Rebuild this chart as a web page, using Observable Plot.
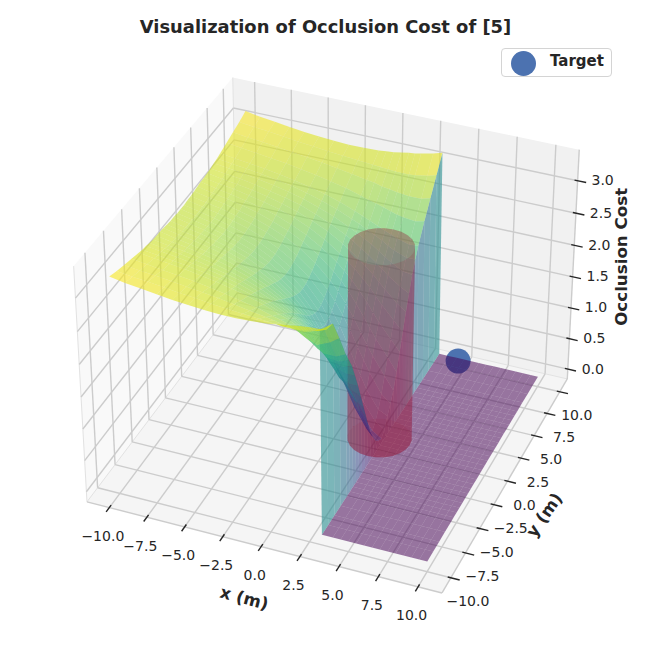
<!DOCTYPE html><html><head><meta charset="utf-8"><style>
html,body{margin:0;padding:0;background:#fff}
#wrap{position:relative;width:650px;height:650px;font-family:"DejaVu Sans",sans-serif}
#legend{position:absolute;left:501px;top:48px;width:109px;height:27px;border:1px solid #d4d4d4;border-radius:4px;background:#fff;color:#262626;font-weight:bold;font-size:15px}
#legend i{position:absolute;left:9px;top:1.5px;width:25px;height:25px;border-radius:50%;background:#4c72b0}
#legend span{position:absolute;left:48px;top:3px}
</style></head><body><div id="wrap"><div id="legend"><i></i><span>Target</span></div></div>
<script src="https://cdn.jsdelivr.net/npm/d3@7"></script>
<script src="https://cdn.jsdelivr.net/npm/@observablehq/plot@0.6"></script>
<script>
const titleText = "Visualization of Occlusion Cost of [5]";
const xTicks = [-10,-7.5,-5,-2.5,0,2.5,5,7.5,10];
const yTicks = [-10,-7.5,-5,-2.5,0,2.5,5,7.5,10];
const zTicks = [0,0.5,1,1.5,2,2.5,3];
const xLim = [-11.5,11.5], yLim = [-11.5,11.5], zLim = [-0.164,3.472];
const surfaceX = [-10,-9,-8,-7,-6,-5,-4,-3,-2,-1,-0.5,0,0.5,1,1.4,1.8,2.6,3.2];
const surfaceY = [-10,-9,-8,-7,-6,-5.5,-5,-4.5,-4,-3.5,-3,-2.5,-2,-1.5,-1,-0.5,0,0.5,1,1.5,2,2.5,3,3.5,4,4.5,5,5.5,6,7,8,9,10];
const surfaceZ = [
[3.2,3.16,3.13,3.1,3.07,3.05,3.03,3.02,3.02,3.03,3.04,3.05,3.07,3.09,3.1,3.12,3.14,3.15],
[3.15,3.12,3.1,3.07,3.04,3.02,2.99,2.97,2.95,2.93,2.92,2.91,2.9,2.9,2.9,2.91,2.95,3.0],
[3.11,3.08,3.06,3.03,3.0,2.97,2.94,2.9,2.86,2.82,2.8,2.77,2.75,2.73,2.73,2.75,2.85,2.95],
[3.07,3.04,3.01,2.98,2.95,2.91,2.87,2.82,2.77,2.7,2.67,2.63,2.57,2.5,2.46,2.42,2.5,2.6],
[3.03,3.0,2.97,2.94,2.9,2.86,2.81,2.75,2.68,2.59,2.55,2.49,2.39,2.28,2.21,2.15,2.15,2.22],
[3.01,2.98,2.95,2.92,2.88,2.84,2.78,2.71,2.63,2.53,2.48,2.42,2.31,2.18,2.1,2.02,2.0,2.06],
[3.0,2.97,2.94,2.9,2.86,2.81,2.75,2.67,2.58,2.47,2.42,2.35,2.22,2.08,1.99,1.9,1.85,1.9],
[2.98,2.95,2.92,2.88,2.83,2.78,2.72,2.63,2.53,2.41,2.34,2.26,2.12,1.96,1.85,1.75,1.68,1.68],
[2.97,2.93,2.9,2.86,2.81,2.75,2.68,2.59,2.48,2.34,2.26,2.17,2.01,1.83,1.7,1.58,1.45,1.45],
[2.96,2.92,2.89,2.84,2.79,2.73,2.65,2.55,2.42,2.26,2.17,2.07,1.9,1.7,1.56,1.42,1.28,1.2],
[2.96,2.91,2.87,2.82,2.77,2.7,2.61,2.5,2.36,2.19,2.08,1.96,1.79,1.62,1.47,1.32,1.05,.95],
[2.95,2.9,2.86,2.81,2.75,2.67,2.58,2.46,2.31,2.11,1.99,1.85,1.68,1.5,1.35,1.2,.92,.7],
[2.94,2.89,2.85,2.79,2.73,2.65,2.55,2.42,2.25,2.03,1.89,1.73,1.54,1.33,1.16,1.0,.68,.45],
[2.93,2.88,2.84,2.78,2.71,2.63,2.52,2.38,2.2,1.96,1.8,1.62,1.4,1.16,.98,.8,.48,.28],
[2.93,2.88,2.83,2.77,2.7,2.61,2.5,2.35,2.16,1.9,1.72,1.52,1.27,1.0,.8,.6,.3,.14],
[2.92,2.87,2.82,2.76,2.69,2.6,2.48,2.33,2.13,1.86,1.67,1.45,1.18,.9,.68,.47,.18,.07],
[2.92,2.87,2.82,2.76,2.69,2.6,2.48,2.32,2.12,1.84,1.65,1.42,1.15,.85,.62,.4,.12,.03],
[2.92,2.87,2.82,2.76,2.69,2.6,2.48,2.33,2.13,1.86,1.67,1.45,1.18,.9,.68,.47,.2,.1],
[2.93,2.88,2.83,2.77,2.7,2.61,2.5,2.35,2.16,1.9,1.72,1.52,1.27,1.0,.8,.6,.32,.25],
[2.93,2.88,2.84,2.78,2.71,2.63,2.52,2.38,2.2,1.96,1.8,1.62,1.4,1.16,.98,.8,.5,.38],
[2.94,2.89,2.85,2.79,2.73,2.65,2.55,2.42,2.25,2.03,1.89,1.73,1.54,1.33,1.16,1.0,.72,.52],
[2.95,2.9,2.86,2.81,2.75,2.67,2.58,2.46,2.31,2.11,1.99,1.85,1.68,1.5,1.35,1.2,.95,.75],
[2.96,2.91,2.87,2.82,2.77,2.7,2.61,2.5,2.36,2.19,2.08,1.96,1.82,1.67,1.53,1.4,1.17,1.0],
[2.96,2.92,2.89,2.84,2.79,2.73,2.65,2.55,2.42,2.26,2.17,2.07,1.95,1.83,1.71,1.6,1.4,1.25],
[2.97,2.93,2.9,2.86,2.81,2.75,2.68,2.59,2.48,2.34,2.26,2.17,2.07,1.97,1.87,1.78,1.6,1.5],
[2.98,2.95,2.92,2.88,2.83,2.78,2.72,2.63,2.53,2.41,2.34,2.26,2.18,2.09,2.01,1.93,1.8,1.72],
[3.0,2.97,2.94,2.9,2.86,2.81,2.75,2.67,2.58,2.47,2.41,2.35,2.28,2.2,2.13,2.07,1.97,1.95],
[3.01,2.98,2.95,2.92,2.88,2.84,2.78,2.71,2.63,2.53,2.48,2.42,2.36,2.3,2.24,2.19,2.12,2.12],
[3.03,3.0,2.97,2.94,2.9,2.86,2.81,2.75,2.68,2.59,2.54,2.49,2.44,2.39,2.35,2.31,2.26,2.27],
[3.07,3.04,3.01,2.98,2.95,2.91,2.87,2.82,2.77,2.7,2.66,2.63,2.6,2.56,2.53,2.51,2.49,2.52],
[3.11,3.08,3.06,3.03,3.0,2.97,2.94,2.9,2.86,2.82,2.8,2.77,2.75,2.73,2.72,2.71,2.71,2.75],
[3.15,3.12,3.1,3.07,3.04,3.02,2.99,2.97,2.95,2.93,2.92,2.91,2.9,2.9,2.9,2.91,2.94,2.98],
[3.2,3.16,3.13,3.1,3.07,3.05,3.03,3.02,3.02,3.03,3.04,3.05,3.07,3.09,3.1,3.12,3.16,3.2]
];
const planeX = [3.3,4,4.5,5,5.5,6,6.5,7,7.5,8,8.5,9,9.5,10];
const cylinderCenter = [3,0.2], cylinderRadius = 2, cylinderHeight = 3;
const cylinderAngles = [0,15,30,45,60,75,90,105,120,135,150,165,180,195,210,225,240,255,270,285,300,315,330,345];
const target = [4.7,9.7,0];
const elev = 35, azim = -68;

// matplotlib-style camera
const sub=(a,b)=>a.map((v,i)=>v-b[i]), dot=(a,b)=>a[0]*b[0]+a[1]*b[1]+a[2]*b[2];
const cross=(a,b)=>[a[1]*b[2]-a[2]*b[1],a[2]*b[0]-a[0]*b[2],a[0]*b[1]-a[1]*b[0]];
const nrm=a=>{const l=Math.hypot(...a);return a.map(v=>v/l)};
const k=1.8294640721620434*25/24/Math.hypot(4,4,3), box=[4*k,4*k,3*k], R=box.map(v=>v/2);
const el=elev*Math.PI/180, az=azim*Math.PI/180;
const eye=[R[0]+10*Math.cos(el)*Math.cos(az),R[1]+10*Math.cos(el)*Math.sin(az),R[2]+10*Math.sin(el)];
const W=nrm(sub(eye,R)),U=nrm(cross([0,0,1],W)),V=cross(W,U);
function project(x,y,z){
  const P=[(x-xLim[0])/(xLim[1]-xLim[0])*box[0],(y-yLim[0])/(yLim[1]-yLim[0])*box[1],(z-zLim[0])/(zLim[1]-zLim[0])*box[2]];
  const d=sub(P,eye),w=-dot(W,d);
  return {px:dot(U,d)/w,py:dot(V,d)/w,depth:w};
}
const seg=(a,b,extra={})=>{const p=project(...a),q=project(...b);return {x1:p.px,y1:p.py,x2:q.px,y2:q.py,...extra}};

let pid=0;
function polys(list){
  const rows=[];
  const items=list.map(o=>{const pr=o.pts.map(p=>project(...p));return {pr,v:o.v,d:d3.mean(pr,p=>p.depth)}});
  items.sort((a,b)=>b.d-a.d);
  for(const it of items){const id=pid++;for(const p of [...it.pr,it.pr[0]])rows.push({px:p.px,py:p.py,id,v:it.v})}
  return rows;
}
const poly=(rows,o)=>Plot.line(rows,{x:"px",y:"py",z:"id",stroke:"none",...o});

// zero plane, surface faces and wall: only the true surface in front of the cylinder is drawn after it
const allX=[...surfaceX,...planeX];
const facesPlane=[],facesBehind=[],facesFront=[];
const zAt=(j,i)=>i<surfaceX.length?surfaceZ[j][i]:0;
for(let j=0;j<surfaceY.length-1;j++)for(let i=0;i<allX.length-1;i++){
  const c=[[i,j],[i+1,j],[i+1,j+1],[i,j+1]].map(([a,b])=>[allX[a],surfaceY[b],zAt(b,a)]);
  const f={pts:c,v:d3.mean(c,p=>p[2])};
  const h=(d3.mean(c,p=>p[0])-cylinderCenter[0])*Math.cos(az)+(d3.mean(c,p=>p[1])-cylinderCenter[1])*Math.sin(az);
  if(i>=surfaceX.length)facesPlane.push(f);
  else if(h>0&&i<surfaceX.length-1)facesFront.push(f);
  else facesBehind.push(f);
}
const ang=cylinderAngles.map(a=>a*Math.PI/180);
const cyl=(a,z)=>[cylinderCenter[0]+cylinderRadius*Math.cos(a),cylinderCenter[1]+cylinderRadius*Math.sin(a),z];
const body=ang.map((a,i)=>{const b=ang[(i+1)%ang.length];return {pts:[cyl(a,0),cyl(b,0),cyl(b,cylinderHeight),cyl(a,cylinderHeight)]}});
const discBottom={pts:ang.map(a=>cyl(a,0))}, discTop={pts:ang.map(a=>cyl(a,cylinderHeight))};

const [x0,x1]=xLim,[y0,y1]=yLim,[z0,z1]=zLim;
const paneLeft=polys([{pts:[[x0,y0,z0],[x0,y1,z0],[x0,y1,z1],[x0,y0,z1]]}]);
const paneBack=polys([{pts:[[x0,y1,z0],[x1,y1,z0],[x1,y1,z1],[x0,y1,z1]]}]);
const paneFloor=polys([{pts:[[x0,y0,z0],[x1,y0,z0],[x1,y1,z0],[x0,y1,z0]]}]);

const grid=[
 ...xTicks.flatMap(t=>[seg([t,y0,z0],[t,y1,z0]),seg([t,y1,z0],[t,y1,z1])]),
 ...yTicks.flatMap(t=>[seg([x0,t,z0],[x1,t,z0]),seg([x0,t,z0],[x0,t,z1])]),
 ...zTicks.flatMap(t=>[seg([x0,y0,t],[x0,y1,t]),seg([x0,y1,t],[x1,y1,t])])
];
const axisLines=[seg([x0,y0,z0],[x1,y0,z0]),seg([x1,y0,z0],[x1,y1,z0]),seg([x1,y1,z0],[x1,y1,z1])];
const paneEdges=[seg([x0,y0,z0],[x0,y0,z1]),seg([x0,y1,z0],[x0,y1,z1]),seg([x0,y0,z0],[x0,y1,z0]),seg([x0,y1,z0],[x1,y1,z0])];
const xTickSegs=xTicks.map(t=>seg([t,y0+0.25,z0],[t,y0-0.45,z0]));
const yTickSegs=yTicks.map(t=>seg([x1-0.2,t,z0],[x1+0.55,t,z0]));
const zTickSegs=zTicks.map(t=>seg([x1-0.2,y1,t],[x1+0.55,y1,t]));
const fmt=v=>v.toFixed(1).replace("-","\u2212");
const lab=(t,p)=>({t:fmt(t),...project(...p)});
const xLabels=xTicks.map(t=>lab(t,[t,y0,z0]));
const yLabels=yTicks.map(t=>lab(t,[x1,t,z0]));
const zLabels=zTicks.map(t=>lab(t,[x1,y1,t]));
const txt={fill:"#262626",fontSize:14};
const lbl={fill:"#262626",fontSize:16.7,fontWeight:"bold"};
const S=3176.5, ox=332.94, oy=325;
const red="#960a28";

const chart=Plot.plot({
  width:650,height:650,margin:0,
  style:{fontFamily:"DejaVu Sans",background:"transparent"},
  x:{type:"linear",domain:[-ox/S,(650-ox)/S],range:[0,650],axis:null},
  y:{type:"linear",domain:[oy/S,(oy-650)/S],range:[0,650],axis:null},
  color:{type:"linear",scheme:"viridis",domain:[0,3.2],clamp:true},
  marks:[
    poly(paneLeft,{fill:"#f9f9f9"}),
    poly(paneBack,{fill:"#f1f1f1"}),
    poly(paneFloor,{fill:"#f5f5f5"}),
    Plot.link(paneEdges,{x1:"x1",y1:"y1",x2:"x2",y2:"y2",stroke:"#e2e2e2",strokeWidth:1}),
    Plot.link(grid,{x1:"x1",y1:"y1",x2:"x2",y2:"y2",stroke:"#cccccc",strokeWidth:1.4}),
    Plot.link(axisLines,{x1:"x1",y1:"y1",x2:"x2",y2:"y2",stroke:"#cccccc",strokeWidth:1.4}),
    Plot.link([...xTickSegs,...yTickSegs,...zTickSegs],{x1:"x1",y1:"y1",x2:"x2",y2:"y2",stroke:"#262626",strokeWidth:1.4}),
    Plot.dot([project(...target)],{x:"px",y:"py",r:12.5,fill:"#4c72b0",stroke:"none"}),
    poly(polys(facesPlane),{fill:"v",fillOpacity:0.53}),
    poly(polys(facesBehind),{fill:"v",fillOpacity:0.58}),
    poly(polys([discBottom]),{fill:red,fillOpacity:0.3}),
    poly(polys(body),{fill:red,fillOpacity:0.24}),
    poly(polys([discTop]),{fill:red,fillOpacity:0.12}),
    poly(polys(facesFront),{fill:"v",fillOpacity:0.6}),
    Plot.text(xLabels,{x:"px",y:"py",text:"t",dx:-6.5,dy:29,...txt}),
    Plot.text(yLabels,{x:"px",y:"py",text:"t",dx:17,dy:24,...txt}),
    Plot.text(zLabels,{x:"px",y:"py",text:"t",dx:25,dy:0,...txt}),
    Plot.text([{t:"x (m)",...project(0,y0,z0)}],{x:"px",y:"py",text:"t",dx:-17,dy:52,rotate:15,...lbl}),
    Plot.text([{t:"y (m)",...project(x1,0,z0)}],{x:"px",y:"py",text:"t",dx:37,dy:34,rotate:-55,...lbl}),
    Plot.text([{t:"Occlusion Cost",...project(x1,y1,1.5)}],{x:"px",y:"py",text:"t",dx:49,dy:-20,rotate:-90,...lbl}),
    Plot.text([titleText],{frameAnchor:"top",dy:19.5,fontSize:17.9,fontWeight:"bold",fill:"#262626"})
  ]
});
document.getElementById("wrap").prepend(chart);
</script></body></html>
